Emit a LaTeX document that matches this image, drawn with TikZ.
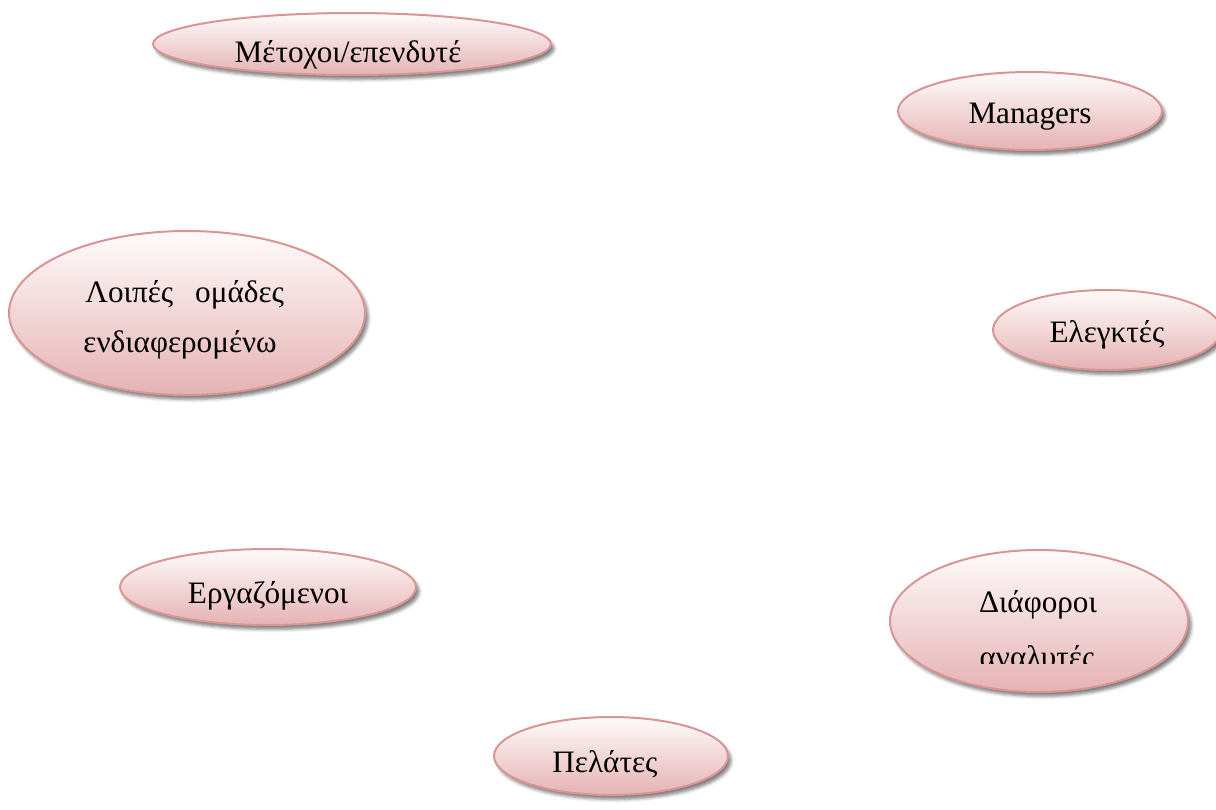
\documentclass[tikz,border=0pt]{standalone}
\usepackage{fontspec}
\setmainfont{Liberation Serif}
\usetikzlibrary{shapes.geometric,shadows.blur}

\definecolor{rim}{RGB}{217,149,148}
\definecolor{fillTop}{RGB}{255,251,251}
\definecolor{fillBottom}{RGB}{229,178,180}

\tikzset{
  group/.style={ellipse, inner sep=0pt, draw=rim, line width=1pt,
    top color=fillTop, bottom color=fillBottom,
    blur shadow={shadow xshift=1.6pt, shadow yshift=-2.2pt,
                 shadow blur radius=1.6pt, shadow opacity=50}},
  label/.style={anchor=base, inner sep=0pt, font=\fontsize{15.6pt}{18pt}\selectfont},
  labelleft/.style={label, anchor=base west}
}

\begin{document}
\begin{tikzpicture}[x=0.5pt, y=-0.5pt]
  \useasboundingbox (0,0) rectangle (1216,809);
  \clip (0,0) rectangle (1216,809);

  % stakeholder groups (sizes in pt: one unit is half a point)
  \node[group, minimum width=199pt, minimum height=31pt] (share)   at (352,44)  {};
  \node[group, minimum width=132pt, minimum height=39pt] (manag)   at (1030,111) {};
  \node[group, minimum width=178pt, minimum height=82pt] (other)   at (187,313) {};
  \node[group, minimum width=114pt, minimum height=40pt] (audit)   at (1107,330) {};
  \node[group, minimum width=148pt, minimum height=38pt] (staff)   at (268,587) {};
  \node[group, minimum width=149pt, minimum height=71pt] (analyst) at (1039,621) {};
  \node[group, minimum width=117pt, minimum height=39pt] (client)  at (611,756) {};

  % labels
  \node[label] (share-t) at (348,62) {Μέτοχοι/επενδυτέ};
  \node[label] (manag-t) at (1030,123) {Managers};
  \node[labelleft] (other-t1) at (85,302) {Λοιπές\hspace{11pt}ομάδες};
  \node[labelleft] (other-t2) at (83,352) {ενδιαφερομένω};
  \node[label] (audit-t) at (1107,342) {Ελεγκτές};
  \node[label] (staff-t) at (268,603) {Εργαζόμενοι};
  \node[label] (analyst-t1) at (1038,612) {Διάφοροι};
  \begin{scope}
    \clip (880,500) rectangle (1200,663);
    \node[label] (analyst-t2) at (1037,667) {αναλυτές};
  \end{scope}
  \node[label] (client-t) at (605,772) {Πελάτες};
\end{tikzpicture}
\end{document}
